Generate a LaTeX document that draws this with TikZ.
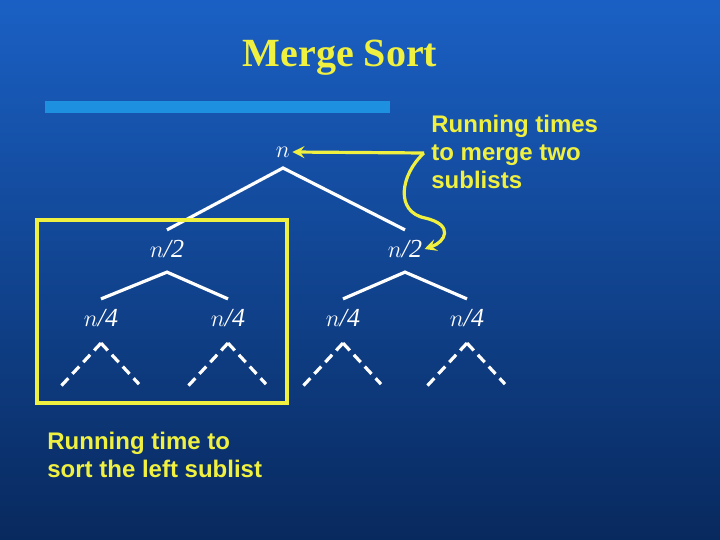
\documentclass[tikz,border=0pt]{standalone}
\usepackage{fontspec}
\setmainfont{Liberation Serif}
\setsansfont{Liberation Sans}
\usetikzlibrary{positioning}
\definecolor{bgtop}{HTML}{1A60C4}
\definecolor{bgbot}{HTML}{08295E}
\definecolor{bar}{HTML}{1E90E0}
\definecolor{hl}{HTML}{F0F040}

\begin{document}
\begin{tikzpicture}[x=0.5pt, y=-0.5pt, lab/.style={text=white, font=\fontsize{13}{15}\selectfont\itshape, inner sep=1pt}, t/.style={white, line width=1.6pt}, d/.style={t, dash pattern=on 5pt off 3pt}, note/.style={text=hl, font=\sffamily\bfseries\fontsize{12}{14}\selectfont, align=left, anchor=north west, inner sep=0pt}]
		\shade[top color=bgtop, bottom color=bgbot] (0,0) rectangle (720,540);
		\useasboundingbox (0,0) rectangle (720,540);
		\node[text=hl, font=\bfseries\fontsize{20}{22}\selectfont] (T) at (340,58) {Merge Sort};
		\fill[bar] (45,101) rectangle (390,113);

		\node[lab] (N) at (283,152) {$n$};
		\node[lab] (L) at (167,249) {$n$/2};
		\node[lab] (R) at (405,249) {$n$/2};
		\node[lab] (LL) at (101,318) {$n$/4};
		\node[lab] (LR) at (228,318) {$n$/4};
		\node[lab] (RL) at (343,318) {$n$/4};
		\node[lab] (RR) at (467,318) {$n$/4};

		\draw[t] ([yshift=4pt]L.north) -- (283,168) -- ([yshift=4pt]R.north);
		\draw[t] ([yshift=4pt]LL.north) -- ([yshift=-6pt]L.south) -- ([yshift=4pt]LR.north);
		\draw[t] ([yshift=4pt]RL.north) -- ([yshift=-6pt]R.south) -- ([yshift=4pt]RR.north);
		\foreach \k in {LL,LR,RL,RR} {
			\coordinate (\k a) at ([yshift=-7pt]\k.south);
			\draw[d] (\k a) -- ++(-40,43);
			\draw[d] (\k a) -- ++(38,41);
		}

		\draw[hl, line width=1.6pt] (37,220) rectangle (287,403);
		\node[note] (S) at (47,432) {Running time to\\sort the left sublist};
		\node[note] (M) at (431,115) {Running times\\to merge two\\sublists};
		\coordinate (J) at (424,153);
		\draw[hl, line width=1.6pt, -stealth] (J) -- (N.east);
		\draw[hl, line width=1.6pt, -stealth] (J) .. controls (400,175) and (395,212) .. (425,218) .. controls (455,225) and (445,242) .. (R.east);
	\end{tikzpicture}
\end{document}
